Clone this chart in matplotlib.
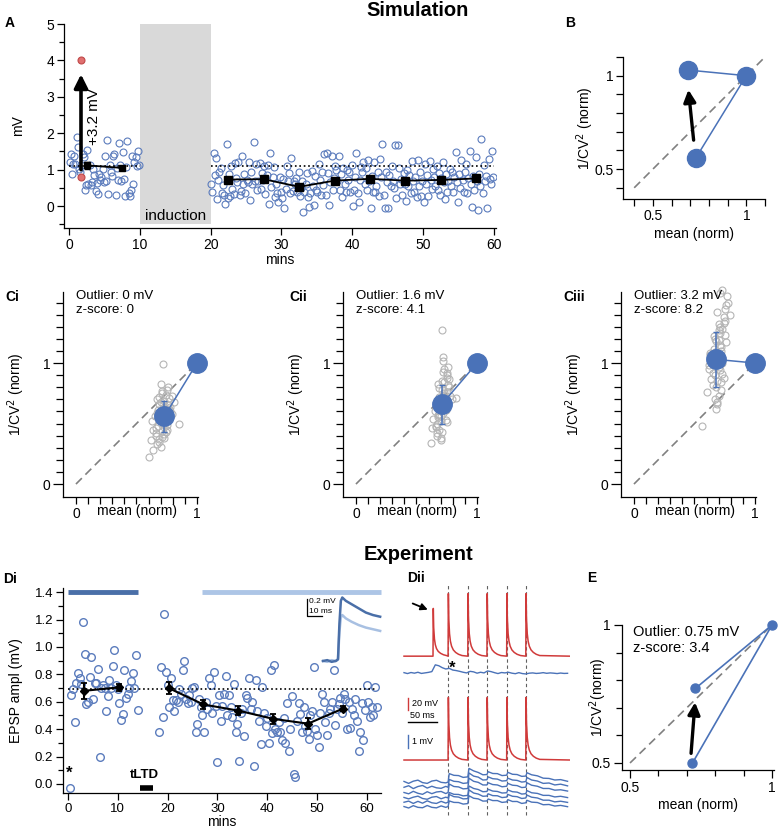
import numpy as np
import matplotlib.pyplot as plt

plt.rcParams['font.family'] = ['Liberation Sans', 'DejaVu Sans']
plt.rcParams['font.size'] = 10
plt.rcParams['axes.linewidth'] = 0.9

W, H = 780, 831
BLUE = '#4a72b8'
OPEN = '#5b7cbd'
RED = '#d03a3a'

# ---------------- Panel A: simulated EPSPs ----------------
a_base = [1.21, 1.43, 0.87, 1.15, 1.38, 1.16, 1.89, 1.61, 1.02, 0.93, 1.12, 1.43,
          1.36, 0.44, 0.57, 1.55, 0.62, 1.13, 0.58, 0.67, 1.02, 0.86, 0.42, 0.64,
          0.34, 0.88, 0.73, 0.79, 1.02, 0.65, 1.38, 0.68, 1.81, 0.33, 1.13, 0.95,
          0.82, 1.37, 1.43, 0.31, 1.06, 0.71, 1.73, 1.14, 0.68, 1.48, 0.74, 0.29,
          1.08, 1.79, 0.36, 0.27, 0.43, 1.38, 0.61, 1.21, 1.36, 1.09, 1.52, 1.12]
a_post = [0.61, 0.38, 1.45, 0.85, 1.32, 0.20, 0.72, 0.95, 1.05, 0.35, 0.58, 0.30,
          0.05, 1.71, 0.22, 0.87, 0.29, 1.11, 0.48, 0.32, 1.18, 0.78, 0.65, 1.20,
          0.30, 0.41, 1.38, 0.62, 0.88, 0.35, 0.73, 0.66, 1.21, 0.16, 0.95, 0.60,
          1.76, 0.70, 1.15, 0.45, 0.68, 1.18, 0.48, 0.92, 0.72, 1.10, 0.32, 0.85,
          1.12, 0.05, 1.45, 0.52, 0.80, 1.07, 0.25, 0.62, 0.35, 0.12, 0.80, 0.40,
          0.22, 0.75, -0.05, 0.48, 1.10, 0.68, 0.90, 0.35, 1.32, 0.42, 0.70, 0.60,
          0.78, 0.40, 0.95, 0.28, 0.50, 0.70, -0.15, 0.38, 0.62, 0.90, 0.25, -0.02,
          0.35, 0.97, 0.55, 0.02, 0.82, 0.45, 0.38, 1.15, 0.72, 0.30, 0.95, 0.58,
          1.42, 0.30, 1.47, 0.92, 0.02, 0.65, 1.38, 0.43, 0.78, 1.10, 0.98, 0.68,
          1.38, 0.45, 0.88, 0.25, 1.05, 0.60, 0.38, 1.00, 0.72, 0.95, 0.40, 1.12,
          0.00, 0.45, 0.80, 1.45, 0.35, 0.10, 0.72, 1.08, 0.93, 1.20, 0.60, 1.05,
          0.45, 1.28, 0.68, -0.05, 0.82, 0.38, 1.22, 0.40, 0.55, 0.95, 0.28, 1.30,
          0.80, 1.70, 0.30, -0.05, 0.93, 0.65, -0.04, 0.85, 0.55, 1.10, 0.70, 0.50,
          1.68, 0.22, 1.68, 1.05, 0.60, 0.75, 0.30, 0.90, 0.62, 0.15, 1.00, 0.55,
          0.85, 0.35, 1.25, 0.68, 0.40, 0.80, 0.25, 1.28, 0.55, 0.95, 0.28, 0.70,
          0.12, 1.15, 0.62, 0.85, 0.28, 1.25, 0.72, 0.48, 1.02, 0.80, 0.55, 1.10,
          0.45, 0.92, 0.30, 0.78, 1.22, 0.65, 0.20, 0.88, 0.40, 0.70, 1.02, 0.55,
          0.95, 0.38, 0.80, 1.48, 0.65, 0.10, 0.88, 0.50, 1.28, 0.72, 0.40, 0.95,
          1.15, 0.35, 0.78, 1.50, 0.62, -0.02, 0.82, 0.45, 1.35, 0.70, -0.10, 0.88,
          0.55, 1.85, 0.35, 1.12, 0.70, 0.82, -0.05, 1.30, 0.75, 0.60, 1.50, 0.80]
a_outlier_x = [1.7, 1.7]
a_outlier_y = [4.0, 0.8]
a_mean_base_x = [2.5, 7.5]
a_mean_base_y = [1.12, 1.05]
a_mean_base_e = [0.10, 0.05]
a_mean_post_x = [22.5, 27.5, 32.5, 37.5, 42.5, 47.5, 52.5, 57.5]
a_mean_post_y = [0.73, 0.74, 0.53, 0.70, 0.75, 0.70, 0.72, 0.76]
a_mean_post_e = [0.04, 0.04, 0.04, 0.04, 0.04, 0.04, 0.04, 0.04]
a_baseline = 1.1

# ---------------- Panel B ----------------
b_x = [1.0, 0.69, 0.73]
b_y = [1.0, 1.03, 0.56]

# ---------------- Panels C ----------------
ci_x = [0.70, 0.74, 0.68, 0.77, 0.72, 0.66, 0.79, 0.71, 0.75, 0.69, 0.73, 0.64, 0.76, 0.70,
        0.78, 0.67, 0.72, 0.74, 0.69, 0.81, 0.71, 0.65, 0.75, 0.68, 0.73, 0.77, 0.70, 0.66,
        0.72, 0.76, 0.69, 0.74, 0.71, 0.63, 0.78, 0.70, 0.73, 0.67, 0.75, 0.72, 0.62, 0.68,
        0.85, 0.71, 0.74, 0.66, 0.70, 0.77, 0.73, 0.69, 0.64, 0.60, 0.79, 0.72, 0.67, 0.75]
ci_y = [0.55, 0.62, 0.48, 0.71, 0.66, 0.42, 0.58, 0.75, 0.52, 0.37, 0.69, 0.45, 0.80, 0.60,
        0.64, 0.33, 0.50, 0.43, 0.72, 0.68, 0.39, 0.56, 0.78, 0.61, 0.47, 0.54, 0.83, 0.40,
        0.58, 0.65, 0.35, 0.74, 0.44, 0.52, 0.60, 0.68, 0.38, 0.70, 0.49, 0.63, 0.36, 0.57,
        0.50, 0.77, 0.53, 0.46, 0.31, 0.62, 0.41, 0.66, 0.28, 0.22, 0.73, 0.99, 0.59, 0.45]
cii_x = [0.70, 0.73, 0.68, 0.75, 0.71, 0.66, 0.77, 0.72, 0.69, 0.74, 0.67, 0.71, 0.76, 0.70,
         0.73, 0.65, 0.78, 0.72, 0.69, 0.74, 0.71, 0.67, 0.75, 0.70, 0.73, 0.68, 0.76, 0.72,
         0.66, 0.74, 0.69, 0.71, 0.77, 0.64, 0.73, 0.70, 0.75, 0.68, 0.72, 0.79, 0.63, 0.71,
         0.74, 0.69, 0.83, 0.72, 0.67, 0.75, 0.70, 0.73, 0.62, 0.76, 0.71, 0.75, 0.68]
cii_y = [0.62, 0.75, 0.55, 0.88, 0.69, 0.47, 0.80, 0.93, 0.58, 0.71, 0.42, 0.66, 0.97, 0.52,
         0.84, 0.60, 0.73, 1.02, 0.45, 0.64, 0.78, 0.50, 0.90, 0.38, 0.68, 0.57, 0.82, 1.05,
         0.48, 0.61, 0.72, 0.43, 0.87, 0.54, 0.95, 0.36, 0.76, 0.65, 0.59, 0.70, 0.46, 0.85,
         0.53, 0.79, 0.71, 0.63, 0.40, 0.92, 0.56, 0.74, 0.34, 0.67, 1.27, 0.51, 0.83]
ciii_x = [0.68, 0.71, 0.65, 0.73, 0.69, 0.63, 0.75, 0.70, 0.67, 0.72, 0.64, 0.69, 0.74, 0.66,
          0.71, 0.62, 0.76, 0.70, 0.68, 0.73, 0.65, 0.70, 0.77, 0.67, 0.72, 0.60, 0.74, 0.69,
          0.66, 0.71, 0.63, 0.75, 0.68, 0.70, 0.78, 0.64, 0.72, 0.67, 0.74, 0.69, 0.71, 0.73,
          0.79, 0.68, 0.66, 0.70, 0.72, 0.62, 0.75, 0.69, 0.71, 0.67, 0.73, 0.76, 0.56]
ciii_y = [1.02, 1.15, 0.92, 1.28, 0.85, 1.08, 1.35, 0.97, 1.20, 0.78, 1.05, 1.42, 0.88, 1.12,
          1.25, 0.95, 1.48, 0.73, 1.18, 1.00, 0.82, 1.32, 1.55, 0.90, 1.10, 0.76, 1.38, 0.68,
          1.22, 0.94, 1.07, 1.45, 0.80, 1.27, 1.50, 0.87, 1.13, 0.70, 1.33, 0.99, 1.58, 1.60,
          1.40, 0.62, 1.04, 1.19, 0.84, 0.98, 1.23, 0.66, 1.30, 1.09, 0.91, 1.17, 0.48]
c_mean = [(0.73, 0.56, 0.13), (0.71, 0.66, 0.16), (0.68, 1.03, 0.23)]
c_outlier = ['0', '1.6', '3.2']
c_zscore = ['0', '4.1', '8.2']
c_names = ['Ci', 'Cii', 'Ciii']

# ---------------- Panel Di: experiment ----------------
d_base = [-0.03, 0.65, 0.69, 0.45, 0.74, 0.81, 0.77, 0.73, 1.18, 0.95, 0.58, 0.60,
          0.78, 0.93, 0.62, 0.74, 0.74, 0.84, 0.20, 0.70, 0.72, 0.70, 0.53, 0.64,
          0.76, 0.70, 0.86, 0.98, 0.72, 0.69, 0.59, 0.47, 0.51, 0.83, 0.63, 0.66,
          0.70, 0.75, 0.81, 0.70, 0.94, 0.54]
d_post = [0.38, 0.85, 0.49, 1.24, 0.82, 0.72, 0.56, 0.77, 0.61, 0.53, 0.61, 0.60,
          0.69, 0.66, 0.83, 0.90, 0.62, 0.59, 0.65, 0.60, 0.70, 0.71, 0.38, 0.44,
          0.62, 0.56, 0.50, 0.38, 0.60, 0.55, 0.77, 0.72, 0.52, 0.82, 0.57, 0.16,
          0.65, 0.46, 0.57, 0.66, 0.79, 0.50, 0.65, 0.56, 0.49, 0.73, 0.38, 0.44,
          0.17, 0.52, 0.55, 0.35, 0.65, 0.63, 0.77, 0.55, 0.60, 0.13, 0.76, 0.53,
          0.46, 0.29, 0.71, 0.52, 0.42, 0.48, 0.30, 0.83, 0.37, 0.87, 0.40, 0.38,
          0.45, 0.38, 0.32, 0.48, 0.30, 0.59, 0.24, 0.40, 0.64, 0.07, 0.05, 0.46,
          0.59, 0.51, 0.38, 0.56, 0.42, 0.39, 0.33, 0.50, 0.53, 0.85, 0.40, 0.36,
          0.27, 0.52, 0.66, 0.60, 0.45, 0.36, 0.52, 0.55, 0.60, 0.83, 0.43, 0.55,
          0.58, 0.63, 0.52, 0.66, 0.62, 0.40, 0.60, 0.41, 0.55, 0.50, 0.62, 0.46,
          0.24, 0.38, 0.59, 0.32, 0.54, 0.72, 0.60, 0.49, 0.56, 0.50, 0.71, 0.56]
d_mean_x = [3.3, 10.3, 20.2, 27.2, 34.2, 41.2, 48.2, 55.2]
d_mean_y = [0.68, 0.705, 0.70, 0.58, 0.535, 0.475, 0.44, 0.55]
d_mean_e = [0.06, 0.025, 0.045, 0.03, 0.035, 0.035, 0.04, 0.02]
d_baseline = 0.695
# averaged EPSP inset (ms, mV)
ins_t = [0, 3, 6, 9, 10.5, 11.5, 12.5, 13.5, 16, 20, 25, 30, 35, 40]
ins_pre = [0.0, 0.01, -0.01, 0.0, 0.02, 0.45, 0.72, 0.76, 0.72, 0.68, 0.63, 0.58, 0.55, 0.53]
ins_post = [0.0, -0.01, 0.01, 0.0, 0.02, 0.35, 0.52, 0.55, 0.51, 0.47, 0.43, 0.40, 0.38, 0.36]

# ---------------- Panel Dii: traces ----------------
sp_dt = [0, 0.5, 1.2, 2.5, 4, 6, 9, 13, 18, 24]            # spike shape, ms
sp_dv = [0, 100, 60, 36, 24, 16, 10, 6, 3, 1]              # % of amplitude
post_spikes = [76, 110, 143, 177, 210]
pre_spike = 50
epsp_top_t = np.arange(0, 288, 6)
epsp_top = [0.02, -0.05, 0.03, -0.02, 0.05, -0.04, 0.0, 0.04,
            0.10, 0.62, 0.55, 0.40, 0.30, 0.35, 0.22, 0.18, 0.12, 0.05,
            0.0, 0.12, 0.08, -0.02, 0.05, 0.0, 0.15, 0.10, 0.02, -0.05,
            0.03, 0.0, 0.05, -0.02, -0.06, 0.02, -0.05, -0.08, -0.02, 0.0,
            -0.04, -0.02, 0.02, -0.03, 0.0, -0.02, -0.05, -0.01, -0.04, -0.03]
bot_t = [0, 8, 16, 24, 32, 40, 48, 56, 64, 72, 76, 78, 86, 94, 102, 110, 112, 120, 128, 136,
         143, 145, 153, 161, 169, 177, 179, 187, 195, 203, 210, 212, 220, 230, 240, 250, 260, 270, 282]
bot_traces = [
    [1.95, 1.80, 1.97, 2.05, 1.86, 1.80, 1.98, 2.04, 1.88, 1.84, 1.9, 2.55, 2.42, 2.40, 2.26, 2.30,
     2.95, 2.76, 2.64, 2.46, 2.48, 2.7, 2.56, 2.55, 2.40, 2.43, 2.65, 2.50, 2.48, 2.34,
     2.36, 2.62, 2.46, 2.38, 2.20, 2.18, 2.06, 2.09, 1.96],
    [1.5, 1.62, 1.40, 1.56, 1.64, 1.44, 1.58, 1.46, 1.42, 1.57, 1.5, 2.1, 1.96, 1.93, 1.80, 1.84,
     2.6, 2.36, 2.28, 2.06, 2.08, 2.3, 2.16, 2.13, 1.98, 2.01, 2.2, 2.06, 2.03, 1.90,
     1.94, 2.25, 2.06, 1.98, 1.80, 1.83, 1.68, 1.74, 1.61],
    [1.1, 1.00, 1.19, 1.04, 0.96, 1.16, 1.01, 1.14, 1.18, 1.02, 1.1, 1.75, 1.56, 1.53, 1.38, 1.41,
     2.2, 1.96, 1.88, 1.68, 1.68, 1.85, 1.71, 1.68, 1.54, 1.58, 1.8, 1.66, 1.63, 1.48,
     1.51, 1.85, 1.66, 1.58, 1.41, 1.41, 1.28, 1.31, 1.21],
    [0.72, 0.61, 0.74, 0.82, 0.64, 0.58, 0.74, 0.79, 0.62, 0.74, 0.68, 1.1, 0.96, 0.95, 0.84, 0.88,
     1.6, 1.41, 1.33, 1.16, 1.18, 1.35, 1.21, 1.18, 1.06, 1.08, 1.3, 1.16, 1.13, 0.98,
     1.01, 1.25, 1.08, 1.03, 0.88, 0.88, 0.76, 0.81, 0.71],
    [0.35, 0.44, 0.26, 0.42, 0.28, 0.46, 0.31, 0.26, 0.42, 0.29, 0.35, 0.95, 0.78, 0.75, 0.61, 0.63,
     1.3, 1.06, 0.98, 0.81, 0.83, 1.0, 0.86, 0.85, 0.71, 0.75, 0.95, 0.81, 0.78, 0.64,
     0.68, 0.9, 0.74, 0.68, 0.51, 0.51, 0.38, 0.43, 0.34],
    [0.02, -0.09, 0.09, -0.04, -0.07, 0.10, -0.04, -0.08, 0.07, -0.04, 0.02, 0.45, 0.34, 0.33, 0.21, 0.25,
     0.85, 0.66, 0.61, 0.44, 0.45, 0.6, 0.48, 0.48, 0.34, 0.38, 0.55, 0.41, 0.41, 0.26,
     0.31, 0.5, 0.36, 0.33, 0.16, 0.18, 0.06, 0.11, 0.01],
]

# ---------------- Panel E ----------------
e_x = [1.0, 0.73, 0.72]
e_y = [1.0, 0.77, 0.50]


def px_ax(l, t, r, b):
    return fig.add_axes([l / W, 1 - b / H, (r - l) / W, (b - t) / H])


def ftext(x, y, s, **kw):
    fig.text(x / W, 1 - y / H, s, **kw)


def style(ax, fs=10):
    ax.spines['top'].set_visible(False)
    ax.spines['right'].set_visible(False)
    ax.tick_params(which='major', length=5, width=0.9, labelsize=fs, pad=2)
    ax.tick_params(which='minor', length=3.5, width=0.9)
    ax.patch.set_alpha(0)


fig = plt.figure(figsize=(W / 100, H / 100), dpi=100)

# ---- A ----
ax = px_ax(64, 24, 496, 228)
style(ax)
ax.set_xlim(-0.7, 60.3)
ax.set_ylim(-0.6, 5.0)
ax.fill_between([10, 20], -0.5, 5.0, color='#d9d9d9', lw=0)
ax.text(15, -0.28, 'induction', ha='center', va='center', fontsize=11)
xb = np.arange(len(a_base)) / 6 + 1 / 12
xp = 20 + np.arange(len(a_post)) / 6 + 1 / 12
ax.plot(xb, a_base, 'o', mfc='none', mec=OPEN, ms=5, mew=0.8)
ax.plot(xp, a_post, 'o', mfc='none', mec=OPEN, ms=5, mew=0.8)
ax.plot([0, 10], [a_baseline] * 2, ':', color='k', lw=1.2)
ax.plot([20, 60], [a_baseline] * 2, ':', color='k', lw=1.2)
ax.plot(a_outlier_x, a_outlier_y, 'o', color='#e07070', mec='#c04848', ms=5, mew=0.8)
ax.errorbar(a_mean_base_x, a_mean_base_y, yerr=a_mean_base_e, color='k', marker='s',
            ms=5, lw=1.3, capsize=2, zorder=5)
ax.errorbar(a_mean_post_x, a_mean_post_y, yerr=a_mean_post_e, color='k', marker='s',
            ms=6, lw=1.3, capsize=2, zorder=5)
ax.annotate('', xy=(1.7, 3.62), xytext=(1.7, 1.0),
            arrowprops=dict(arrowstyle='-|>', color='k', lw=2.6, mutation_scale=20,
                            shrinkA=0, shrinkB=0))
ax.text(3.5, 2.45, '+3.2 mV', rotation=90, ha='center', va='center', fontsize=11)
ax.set_xticks(range(0, 61, 10))
ax.set_yticks(range(0, 6))
ax.set_yticks(np.arange(-0.5, 5.0, 1.0), minor=True)
ax.set_xlabel('mins', labelpad=1)
ax.set_ylabel('mV')
ax.yaxis.set_label_coords(-0.09, 0.5)

# ---- B ----
ax = px_ax(623, 57, 765, 199)
style(ax)
ax.set_xlim(0.34, 1.096)
ax.set_ylim(0.34, 1.096)
ax.plot([0.4, 1.1], [0.4, 1.1], color='#808080', lw=1.2, dashes=(5, 3))
ax.plot([b_x[1], b_x[0], b_x[2]], [b_y[1], b_y[0], b_y[2]], color=BLUE, lw=1.1)
ax.plot(b_x, b_y, 'o', color=BLUE, ms=13, clip_on=False, zorder=4)
ax.annotate('', xy=(0.69, 0.925), xytext=(0.718, 0.655),
            arrowprops=dict(arrowstyle='-|>', color='k', lw=2.4, mutation_scale=18,
                            shrinkA=0, shrinkB=0))
ax.set_xticks([0.5, 1])
ax.set_xticklabels(['0.5', '1'])
ax.set_yticks([0.5, 1])
ax.set_yticklabels(['0.5', '1'])
ax.set_xticks(np.arange(0.4, 1.11, 0.1), minor=True)
ax.set_yticks(np.arange(0.4, 1.11, 0.1), minor=True)
ax.tick_params(which='minor', length=5)
ax.set_xlabel('mean (norm)', labelpad=3)
ax.set_ylabel('1/CV$^2$ (norm)')
ax.yaxis.set_label_coords(-0.19, 0.5)

# ---- C ----
c_clouds = [(ci_x, ci_y), (cii_x, cii_y), (ciii_x, ciii_y)]
c_left = [63, 343, 621]
for k in range(3):
    ax = px_ax(c_left[k], 292, c_left[k] + 135, 497)
    style(ax)
    ax.set_xlim(-0.107, 1.008)
    ax.set_ylim(-0.107, 1.587)
    ax.plot([0, 1], [0, 1], color='#808080', lw=1.2, dashes=(5, 3))
    cx, cy = c_clouds[k]
    ax.plot(cx, cy, 'o', mfc='none', mec='#b5b5b5', ms=5, mew=0.8, clip_on=False)
    mx, my, me = c_mean[k]
    ax.plot([mx, 1], [my, 1], color=BLUE, lw=1.1)
    ax.errorbar([mx], [my], yerr=[me], color=BLUE, lw=1.1, capsize=2.5)
    ax.plot([mx, 1], [my, 1], 'o', color=BLUE, ms=14, clip_on=False, zorder=4)
    ax.text(0.0, 1.60, 'Outlier: %s mV\nz-score: %s' % (c_outlier[k], c_zscore[k]),
            ha='left', va='top', fontsize=9.5, linespacing=1.15)
    ax.set_xticks([0, 1])
    ax.set_xticklabels(['0', '1'])
    ax.set_yticks([0, 1])
    ax.set_yticklabels(['0', '1'])
    ax.set_xticks(np.arange(0, 1.01, 0.1), minor=True)
    ax.set_yticks(np.arange(0, 1.51, 0.1), minor=True)
    ax.tick_params(axis='y', which='major', length=7)
    ax.tick_params(axis='y', which='minor', length=5)
    ax.tick_params(axis='x', which='both', length=5)
    ax.set_xlabel('mean (norm)')
    ax.xaxis.set_label_coords(0.55, -0.035)
    ax.set_ylabel('1/CV$^2$ (norm)')
    ax.yaxis.set_label_coords(-0.27, 0.5)
    ftext(c_left[k] - 58 + (k == 1) * 4, 297, c_names[k], fontweight='bold', fontsize=10,
          ha='left', va='center')

# ---- Di ----
ax = px_ax(63, 588, 381, 793)
style(ax, fs=9.5)
ax.set_xlim(-1.0, 62.85)
ax.set_ylim(-0.066, 1.43)
xdb = 1 / 3 + np.arange(len(d_base)) / 3
xdp = 18 + 1 / 3 + np.arange(len(d_post)) / 3
ax.plot(xdb, d_base, 'o', mfc='none', mec=OPEN, ms=5.5, mew=1.0, clip_on=False)
ax.plot(xdp, d_post, 'o', mfc='none', mec=OPEN, ms=5.5, mew=1.0)
ax.plot([0, 62], [d_baseline] * 2, ':', color='k', lw=1.2)
ax.plot([0, 14], [1.4, 1.4], color='#4a6fa8', lw=3.5, solid_capstyle='butt', clip_on=False)
ax.plot([27, 62.8], [1.4, 1.4], color='#adc5e6', lw=3.5, solid_capstyle='butt', clip_on=False)
ax.errorbar(d_mean_x[:2], d_mean_y[:2], yerr=d_mean_e[:2], color='k', marker='D', ms=4,
            lw=1.5, capsize=2.5, capthick=1.3, zorder=5)
ax.errorbar(d_mean_x[2:], d_mean_y[2:], yerr=d_mean_e[2:], color='k', marker='D', ms=4,
            lw=1.5, capsize=2.5, capthick=1.3, zorder=5)
ax.text(0.2, 0.02, '*', fontsize=12, fontweight='bold', ha='center', va='bottom')
ax.text(15.4, 0.025, 'tLTD', fontsize=9.5, fontweight='bold', ha='center', va='bottom')
ax.plot([14.5, 17], [-0.027, -0.027], color='k', lw=4, solid_capstyle='butt')
ax.set_xticks(range(0, 61, 10))
ax.set_yticks(np.arange(0, 1.41, 0.2))
ax.set_yticklabels(['%.1f' % v for v in np.arange(0, 1.41, 0.2)])
ax.set_yticks(np.arange(0.1, 1.41, 0.2), minor=True)
ax.set_xlabel('mins', labelpad=0, fontsize=10)
ax.set_ylabel('EPSP ampl (mV)', fontsize=10)
ax.yaxis.set_label_coords(-0.125, 0.5)

ins = px_ax(300, 590, 385, 670)
ins.set_axis_off()
ins.set_xlim(-16.1, 43.4)
ins.set_ylim(-0.108, 0.85)
ins.plot(ins_t, ins_post, color='#a8c0e2', lw=1.8)
ins.plot(ins_t, ins_pre, color='#4a6fa8', lw=1.8)
ins.plot([-11, -11, -1], [0.74, 0.54, 0.54], color='k', lw=0.9)
ins.text(-9.5, 0.755, '0.2 mV', fontsize=6, va='top')
ins.text(-9.5, 0.64, '10 ms', fontsize=6, va='top')

# ---- Dii ----
ax = px_ax(400, 585, 570, 831)
ax.set_axis_off()
ax.set_xlim(-6.9, 286.2)
ax.set_ylim(0, 396.8)


def spike_train(times, amps, base, t_end=286):
    t, v = [0.0], [base]
    for s, a in zip(times, amps):
        t.append(s)
        v.append(base)
        for d, p in zip(sp_dt[1:], sp_dv[1:]):
            t.append(s + d)
            v.append(base + a * p / 100)
    t.append(t_end)
    v.append(base)
    return t, v


for s in post_spikes:
    ax.plot([s, s], [26, 396], color='#606060', lw=0.8, dashes=(3, 2.5))
t1, v1 = spike_train([pre_spike] + post_spikes, [77] + [101] * 5, 282)
ax.plot(t1, v1, color=RED, lw=1.1)
t2, v2 = spike_train(post_spikes, [101] * 5, 114.5)
ax.plot(t2, v2, color=RED, lw=1.1)
ax.plot(epsp_top_t, 255 + 21 * np.array(epsp_top), color=BLUE, lw=1.0)
for tr in bot_traces:
    ax.plot(bot_t, 39 + 21 * np.array(tr), color=BLUE, lw=1.0)
ax.annotate('', xy=(41, 357), xytext=(15, 367),
            arrowprops=dict(arrowstyle='-|>', color='k', lw=1.3, mutation_scale=10,
                            shrinkA=0, shrinkB=0))
ax.text(83, 262, '*', fontsize=12, fontweight='bold', ha='center', va='center')
ax.plot([7, 7], [195, 214.5], color=RED, lw=1.0)
ax.text(14, 205, '20 mV', fontsize=6.5, va='center')
ax.plot([7, 57], [176, 176], color='k', lw=1.0)
ax.text(32, 179, '50 ms', fontsize=6.5, va='bottom', ha='center')
ax.plot([7, 7], [134, 155], color=BLUE, lw=1.0)
ax.text(14, 145, '1 mV', fontsize=6.5, va='center')

# ---- E ----
ax = px_ax(622, 625, 774, 770)
style(ax)
ax.set_xlim(0.4718, 1.007)
ax.set_ylim(0.4746, 1.0)
ax.plot([0.5, 1], [0.5, 1], color='#808080', lw=1.2, dashes=(5, 3))
ax.plot([e_x[1], e_x[0], e_x[2]], [e_y[1], e_y[0], e_y[2]], color=BLUE, lw=1.2)
ax.plot(e_x, e_y, 'o', color=BLUE, ms=6.5, clip_on=False, zorder=4)
ax.annotate('', xy=(0.729, 0.72), xytext=(0.715, 0.535),
            arrowprops=dict(arrowstyle='-|>', color='k', lw=2.4, mutation_scale=18,
                            shrinkA=0, shrinkB=0))
ax.text(0.51, 1.0, 'Outlier: 0.75 mV\nz-score: 3.4', ha='left', va='top', fontsize=10.5,
        linespacing=1.2)
ax.set_xticks([0.5, 1])
ax.set_xticklabels(['0.5', '1'])
ax.set_yticks([0.5, 1])
ax.set_yticklabels(['0.5', '1'])
ax.set_xticks(np.arange(0.5, 1.01, 0.1), minor=True)
ax.set_yticks(np.arange(0.5, 1.01, 0.1), minor=True)
ax.tick_params(which='major', length=6)
ax.tick_params(which='minor', length=4)
ax.set_xlabel('mean (norm)', labelpad=2)
ax.set_ylabel('1/CV$^2$(norm)')
ax.yaxis.set_label_coords(-0.085, 0.5)

# ---- titles and panel letters ----
ftext(418, 11, 'Simulation', fontsize=14.5, fontweight='bold', ha='center', va='center')
ftext(418, 555, 'Experiment', fontsize=14.5, fontweight='bold', ha='center', va='center')
ftext(5, 23, 'A', fontsize=10, fontweight='bold', va='center')
ftext(565, 23, 'B', fontsize=10, fontweight='bold', va='center')
ftext(3, 579, 'Di', fontsize=10, fontweight='bold', va='center')
ftext(407, 578, 'Dii', fontsize=10, fontweight='bold', va='center')
ftext(587, 578, 'E', fontsize=10, fontweight='bold', va='center')

fig.savefig('out.png', dpi=100)
